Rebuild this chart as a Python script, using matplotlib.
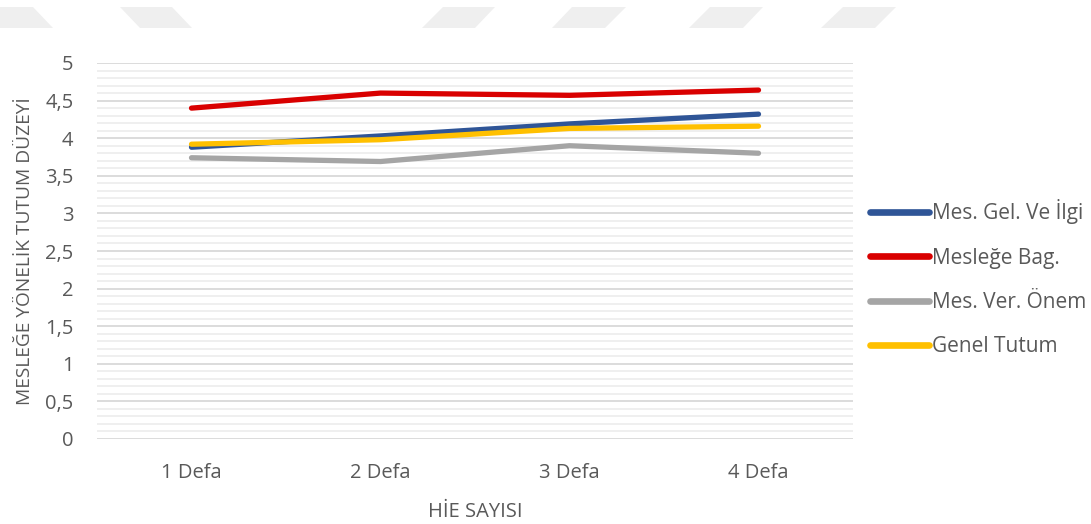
import matplotlib.pyplot as plt
from matplotlib.patches import Polygon
from matplotlib.ticker import MultipleLocator

plt.rcParams['font.family'] = ['Open Sans', 'DejaVu Sans']

categories = ["1 Defa", "2 Defa", "3 Defa", "4 Defa"]
mes_gel = [3.88, 4.03, 4.19, 4.32]
meslege_bag = [4.40, 4.60, 4.57, 4.64]
mes_ver = [3.74, 3.69, 3.90, 3.80]
genel = [3.92, 3.98, 4.13, 4.16]

series = [
    ("Mes. Gel. Ve İlgi", mes_gel, "#2f5597"),
    ("Mesleğe Bag.", meslege_bag, "#d90000"),
    ("Mes. Ver. Önem", mes_ver, "#a5a5a5"),
    ("Genel Tutum", genel, "#ffc000"),
]

text_col = "#595959"
W, H = 1091, 524

fig = plt.figure(figsize=(W / 100, H / 100), dpi=100)

# faint watermark shapes along the top edge (pixel coords)
shapes = [
    [(0, 7), (33, 7), (53, 28), (0, 28)],
    [(120, 7), (172, 7), (192, 28), (140, 28)],
    [(443, 7), (495, 7), (475, 28), (422, 28)],
    [(572, 7), (626, 7), (605, 28), (552, 28)],
    [(710, 7), (763, 7), (743, 28), (689, 28)],
    [(843, 7), (896, 7), (875, 28), (821, 28)],
]
for s in shapes:
    pts = [(px / W, 1 - py / H) for px, py in s]
    fig.patches.append(Polygon(pts, closed=True, transform=fig.transFigure,
                               facecolor="#efefef", edgecolor="none"))

ax = fig.add_axes([97 / W, 85 / H, 756 / W, 376 / H])
x = range(len(categories))
for name, vals, col in series:
    ax.plot(x, vals, color=col, lw=3.8, solid_capstyle="round",
            solid_joinstyle="round", label=name)

ax.set_xlim(-0.5, 3.5)
ax.set_ylim(0, 5)
ax.set_xticks(list(x))
ax.set_xticklabels(categories)
yt = [i * 0.5 for i in range(11)]
ax.set_yticks(yt)
ax.set_yticklabels([f"{v:g}".replace(".", ",") for v in yt])
ax.yaxis.set_minor_locator(MultipleLocator(0.1))
ax.grid(which="major", axis="y", color="#d9d9d9", lw=1.3)
ax.grid(which="minor", axis="y", color="#eeeeee", lw=1.3)
ax.set_axisbelow(True)
for sp in ax.spines.values():
    sp.set_visible(False)
ax.tick_params(which="both", length=0, colors=text_col, labelsize=14.5)
ax.tick_params(axis="x", pad=17)
ax.tick_params(axis="y", pad=17)

ax.set_ylabel("MESLEĞE YÖNELİK TUTUM DÜZEYİ", color=text_col, fontsize=13.8, labelpad=8)
ax.set_xlabel("HİE SAYISI", color=text_col, fontsize=14.5, labelpad=14)

leg = fig.legend(loc="upper left", bbox_to_anchor=(862 / W, 1 - 191 / H),
                 frameon=False, fontsize=15, handlelength=2.8,
                 handletextpad=0.15, labelspacing=1.12, borderaxespad=0)
for t in leg.get_texts():
    t.set_color(text_col)
for ln in leg.get_lines():
    ln.set_linewidth(4.8)
    ln.set_solid_capstyle("round")

fig.savefig("out.png", dpi=100)
